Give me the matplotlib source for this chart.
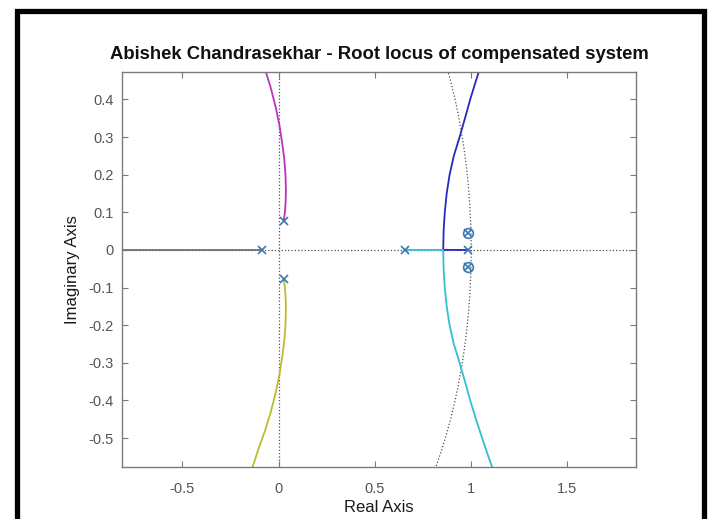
import matplotlib
matplotlib.use("Agg")
import matplotlib.pyplot as plt
from matplotlib.patches import Circle, Rectangle

plt.rcParams['font.family'] = ['Liberation Sans', 'DejaVu Sans']
plt.rcParams['axes.unicode_minus'] = False

# Open-loop poles and zeros (z-plane)
pole_re = [-0.085, 0.027, 0.027, 0.656, 0.985, 0.985, 0.985]
pole_im = [0.0, 0.078, -0.078, 0.0, 0.0, 0.045, -0.045]
zero_re = [0.985, 0.985]
zero_im = [0.045, -0.045]

# Root-locus branches
gray_re = [-0.085, -0.95]
gray_im = [0.0, 0.0]

magenta_re = [0.027, 0.033, 0.037, 0.038, 0.036, 0.030, 0.020, 0.005, -0.015, -0.040, -0.070]
magenta_im = [0.078, 0.10, 0.13, 0.16, 0.20, 0.24, 0.28, 0.33, 0.38, 0.43, 0.48]

yellow_re = [0.027, 0.033, 0.037, 0.038, 0.036, 0.030, 0.020, 0.005, -0.015, -0.040, -0.070, -0.105, -0.140]
yellow_im = [-0.078, -0.10, -0.13, -0.16, -0.20, -0.24, -0.28, -0.33, -0.38, -0.43, -0.48, -0.53, -0.585]

blue_re = [0.985, 0.855, 0.857, 0.863, 0.873, 0.888, 0.910, 0.940, 0.968, 0.995, 1.025, 1.057]
blue_im = [0.0, 0.0, 0.05, 0.10, 0.15, 0.20, 0.25, 0.30, 0.35, 0.40, 0.45, 0.50]

cyan_re = [0.656, 0.855, 0.857, 0.863, 0.873, 0.888, 0.910, 0.940, 0.968, 0.995, 1.025, 1.057, 1.090, 1.125]
cyan_im = [0.0, 0.0, -0.05, -0.10, -0.15, -0.20, -0.25, -0.30, -0.35, -0.40, -0.45, -0.50, -0.55, -0.60]

xticks = [-0.5, 0, 0.5, 1, 1.5]
xtick_labels = ['-0.5', '0', '0.5', '1', '1.5']
yticks = [-0.5, -0.4, -0.3, -0.2, -0.1, 0, 0.1, 0.2, 0.3, 0.4]
ytick_labels = ['-0.5', '-0.4', '-0.3', '-0.2', '-0.1', '0', '0.1', '0.2', '0.3', '0.4']

fig = plt.figure(figsize=(7.10, 5.19), dpi=100)
ax = fig.add_axes([0.1718, 0.1002, 0.7240, 0.7611])

# unit circle and axis reference lines
ax.add_patch(Circle((0, 0), 1.0, fill=False, linestyle=':', color='#505050', lw=0.9, zorder=1))
ax.axhline(0, linestyle=':', color='#505050', lw=0.9, zorder=1)
ax.axvline(0, linestyle=':', color='#505050', lw=0.9, zorder=1)

lw = 1.3
ax.plot(gray_re, gray_im, color='#707070', lw=lw, zorder=2)
ax.plot(magenta_re, magenta_im, color='#c030c0', lw=lw, zorder=2)
ax.plot(yellow_re, yellow_im, color='#bcbc30', lw=lw, zorder=2)
ax.plot(blue_re, blue_im, color='#2828c0', lw=lw, zorder=2)
ax.plot(cyan_re, cyan_im, color='#30c0d0', lw=lw, zorder=2)

mcol = '#3a78b0'
ax.plot(pole_re, pole_im, linestyle='none', marker='x', ms=6, mew=1.2, color=mcol, zorder=3)
ax.plot(zero_re, zero_im, linestyle='none', marker='o', ms=7, mew=1.2, mfc='none', color=mcol, zorder=3)

ax.set_xlim(-0.813, 1.856)
ax.set_ylim(-0.577, 0.473)
ax.set_xticks(xticks)
ax.set_xticklabels(xtick_labels)
ax.set_yticks(yticks)
ax.set_yticklabels(ytick_labels)

for s in ax.spines.values():
    s.set_color('#7a7a7a')
    s.set_linewidth(1.0)
ax.tick_params(direction='in', top=True, right=True, length=4, width=0.8,
               color='#7a7a7a', labelcolor='#555555', labelsize=10.5)
ax.tick_params(axis='x', pad=11)
ax.tick_params(axis='y', pad=6)

ax.set_xlabel('Real Axis', fontsize=12, color='#1a1a1a', labelpad=3)
ax.set_ylabel('Imaginary Axis', fontsize=12, color='#1a1a1a', labelpad=6)
ax.set_title('Abishek Chandrasekhar - Root locus of compensated system',
             fontsize=13.3, fontweight='bold', color='#111111', pad=9)

# outer frame
fig.patches.append(Rectangle((16.5 / 710, -0.05), (704 - 16.5) / 710, 0.05 + 1 - 11 / 519,
                             transform=fig.transFigure, fill=False, edgecolor='black',
                             lw=3.8, zorder=10))

fig.savefig('out.png', dpi=100)
